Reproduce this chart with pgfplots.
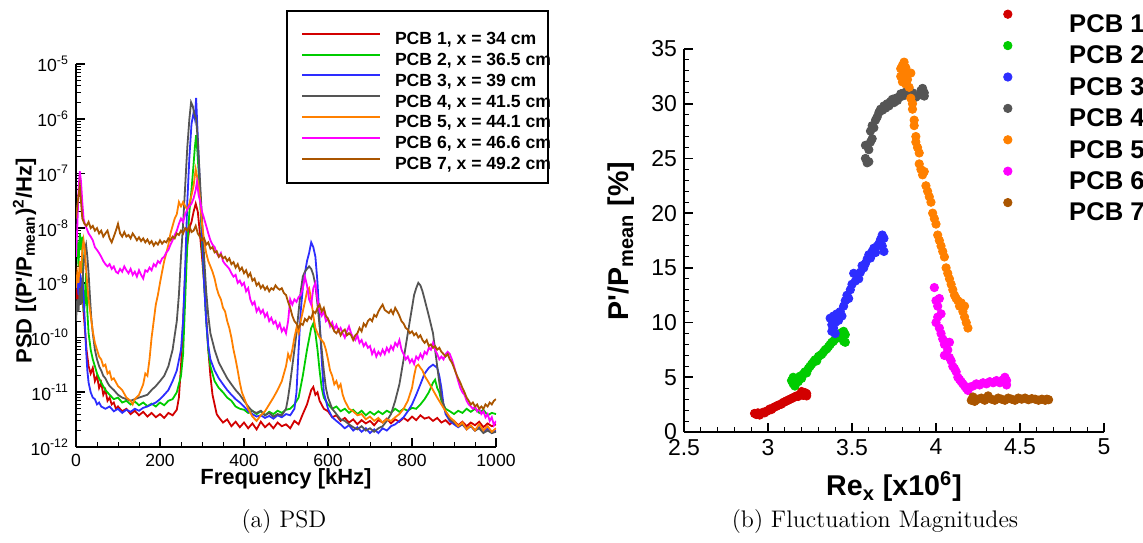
\documentclass[border=0pt]{standalone}
\usepackage{fontspec}
\usepackage{pgfplots}
\pgfplotsset{compat=1.18}
\newfontfamily\arial{Liberation Sans}
\definecolor{cA}{RGB}{210,0,0}
\definecolor{cB}{RGB}{0,204,0}
\definecolor{cC}{RGB}{45,45,255}
\definecolor{cD}{RGB}{85,85,85}
\definecolor{cE}{RGB}{255,128,0}
\definecolor{cF}{RGB}{255,0,255}
\definecolor{cG}{RGB}{170,85,0}
\pgfplotsset{
  tecframe/.style={
    scale only axis, width=210pt, height=191.5pt, anchor=south west,
    axis lines=left, axis line style={-, line width=1pt, black},
    tick align=inside, major tick length=4.5pt, minor tick length=2.5pt,
    major tick style={black, line width=0.8pt}, minor tick style={black, line width=0.5pt},
  }
}
\begin{document}
\begin{tikzpicture}
\useasboundingbox (0pt,0pt) rectangle (571.5pt,271pt);
% ---------------- left: PSD ----------------
\begin{axis}[tecframe, at={(38pt,47.5pt)},
  ymode=log, xmin=0, xmax=1000, ymin=1e-12, ymax=1e-5,
  xtick={0,200,400,600,800,1000}, xticklabels={0,200,400,600,800,1000},
  minor x tick num=3,
  ytick={1e-12,1e-11,1e-10,1e-9,1e-8,1e-7,1e-6,1e-5},
  yticklabels={10\textsuperscript{-12},10\textsuperscript{-11},10\textsuperscript{-10},10\textsuperscript{-9},10\textsuperscript{-8},10\textsuperscript{-7},10\textsuperscript{-6},10\textsuperscript{-5}},
  ticklabel style={font=\arial\fontsize{8.8}{10}\selectfont},
  xlabel={Frequency [kHz]},
  ylabel={PSD [(P'/P\textsubscript{mean})\textsuperscript{2}/Hz]},
  every axis x label/.style={at={(axis description cs:0.5,-0.0836)}, anchor=center},
  every axis y label/.style={at={(axis description cs:-0.1226,0.4856)}, anchor=center, rotate=90},
  label style={font=\arial\bfseries\fontsize{11}{13}\selectfont},
  legend cell align=left,
  legend image code/.code={\draw[#1, line width=1pt] (0pt,3.15pt) -- (39pt,3.15pt); \path (46pt,3.15pt);},
  legend style={at={(0.535,1.0849)}, anchor=north west, draw=none, fill=none, inner sep=0pt, row sep=2.2pt,
    font=\arial\bfseries\fontsize{8.8}{10}\selectfont,
    nodes={inner sep=0pt, text height=6.4pt, text depth=1.8pt}},
  every axis plot/.append style={line width=0.9pt},
]
\addplot[cA] coordinates {(0,5e-10) (3,8e-10) (6,4e-10) (9,1.1e-9) (12,6e-10) (15,9e-10) (18,3e-10) (21,1.5e-10) (25,6e-11) (30,3e-11) (35,2.2e-11) (40,2.8e-11) (45,1.6e-11) (50,2e-11) (55,1.2e-11) (60,1.5e-11) (65,9e-12) (70,1.1e-11) (75,7e-12) (80,8e-12) (85,6e-12) (90,6.5e-12) (95,5e-12) (100,5.5e-12) (110,4.5e-12) (120,5e-12) (130,4e-12) (140,4.6e-12) (150,3.8e-12) (160,4.4e-12) (170,3.6e-12) (180,4.2e-12) (190,3.5e-12) (200,4e-12) (210,3.4e-12) (220,4.2e-12) (230,3.8e-12) (240,4.8e-12) (245,8e-12) (250,3e-11) (255,2e-10) (260,1.5e-9) (265,5e-9) (270,1e-8) (275,1.3e-8) (280,2e-8) (285,2.8e-8) (290,2e-8) (295,8e-9) (300,3e-9) (305,1e-9) (310,2.5e-10) (315,6e-11) (320,2e-11) (325,9e-12) (330,6e-12) (335,4e-12) (340,3.5e-12) (350,2.8e-12) (360,3.2e-12) (370,2.4e-12) (380,2.9e-12) (390,2.3e-12) (400,2.8e-12) (410,2.2e-12) (420,2.7e-12) (430,2.1e-12) (440,2.9e-12) (450,2.3e-12) (460,2.7e-12) (470,2.2e-12) (480,2.8e-12) (490,2.4e-12) (500,2.6e-12) (510,2.2e-12) (520,3e-12) (530,2.6e-12) (540,4e-12) (550,6e-12) (560,1.1e-11) (565,1.25e-11) (570,9e-12) (575,1e-11) (580,7e-12) (590,5e-12) (600,4.5e-12) (610,3.5e-12) (620,3.8e-12) (630,3e-12) (640,3.4e-12) (650,2.8e-12) (660,3.2e-12) (670,2.6e-12) (680,3.1e-12) (690,2.7e-12) (700,3e-12) (710,2.5e-12) (720,3.1e-12) (730,2.8e-12) (740,3.3e-12) (750,2.7e-12) (760,3.2e-12) (770,2.9e-12) (780,3.4e-12) (790,3e-12) (800,3.6e-12) (810,3.1e-12) (820,3.8e-12) (830,3.3e-12) (840,3.5e-12) (850,3e-12) (860,3.4e-12) (870,2.8e-12) (880,3.1e-12) (890,2.6e-12) (900,3e-12) (910,2.5e-12) (920,2.9e-12) (930,2.4e-12) (940,2.8e-12) (950,2.5e-12) (960,2.9e-12) (970,2.3e-12) (980,2.7e-12) (990,2.4e-12) (1000,2.6e-12)};
\addlegendentry{PCB 1, x = 34 cm}
\addplot[cB] coordinates {(0,3e-9) (3,6e-9) (6,2e-9) (9,8e-9) (12,4e-9) (15,7e-9) (18,3e-10) (21,4e-10) (24,1.5e-9) (27,3e-10) (30,1.2e-10) (35,6e-11) (40,4e-11) (45,3e-11) (50,2.2e-11) (55,1.8e-11) (60,1.5e-11) (70,1.1e-11) (80,9e-12) (90,7.5e-12) (100,8e-12) (110,6.5e-12) (120,7e-12) (130,6e-12) (140,6.8e-12) (150,5.8e-12) (160,6.5e-12) (170,5.6e-12) (180,6.2e-12) (190,5.5e-12) (200,6.5e-12) (210,5.8e-12) (220,7e-12) (230,7.5e-12) (240,1e-11) (250,2e-11) (255,5e-11) (260,5e-10) (265,5e-9) (270,2e-8) (275,5e-8) (280,1.5e-7) (283,3e-7) (286,5e-7) (289,2.5e-7) (293,8e-8) (297,2e-8) (300,5e-9) (305,1e-9) (310,2e-10) (315,6e-11) (320,3e-11) (330,1.6e-11) (340,1.2e-11) (350,1e-11) (360,8e-12) (370,7e-12) (380,5.5e-12) (390,5e-12) (400,4.8e-12) (410,4.2e-12) (420,4.6e-12) (430,4e-12) (440,4.5e-12) (450,3.8e-12) (460,4.4e-12) (470,4e-12) (480,4.6e-12) (490,4.2e-12) (500,4.8e-12) (510,5e-12) (520,6e-12) (530,8e-12) (540,2e-11) (550,6e-11) (560,1.5e-10) (565,1.8e-10) (570,1.2e-10) (575,6e-11) (580,2.5e-11) (585,1.2e-11) (590,8e-12) (600,6e-12) (610,5e-12) (620,5.5e-12) (630,4.5e-12) (640,5e-12) (650,4.2e-12) (660,4.8e-12) (670,4e-12) (680,4.6e-12) (690,3.8e-12) (700,4.4e-12) (710,3.9e-12) (720,4.5e-12) (730,4e-12) (740,4.6e-12) (750,4.2e-12) (760,5e-12) (770,4.4e-12) (780,5e-12) (790,4.6e-12) (800,5.2e-12) (810,5e-12) (820,6e-12) (830,7.5e-12) (840,1e-11) (850,1.5e-11) (855,1.7e-11) (860,1.2e-11) (865,1e-11) (870,7e-12) (880,5e-12) (890,4.5e-12) (900,4e-12) (910,4.6e-12) (920,4.2e-12) (930,5e-12) (940,4.4e-12) (950,5e-12) (960,4.2e-12) (970,4.8e-12) (980,3.8e-12) (990,4.2e-12) (1000,4e-12)};
\addlegendentry{PCB 2, x = 36.5 cm}
\addplot[cC] coordinates {(0,8e-10) (3,1.3e-9) (6,6e-10) (9,1.6e-9) (12,9e-10) (15,1.2e-9) (18,6e-10) (21,2e-10) (24,6e-11) (27,2.5e-11) (30,1.5e-11) (35,1e-11) (40,8e-12) (45,7.5e-12) (50,6e-12) (55,6.5e-12) (60,5.5e-12) (70,5e-12) (80,5.5e-12) (90,4.5e-12) (100,5e-12) (110,4.2e-12) (120,4.8e-12) (130,4.4e-12) (140,5e-12) (150,4.6e-12) (160,5.2e-12) (170,5.5e-12) (180,6e-12) (190,6.5e-12) (200,7.5e-12) (210,9e-12) (220,1.1e-11) (230,1.6e-11) (240,2.5e-11) (250,6e-11) (255,2e-10) (260,2e-9) (265,3e-8) (270,2e-7) (275,8e-7) (280,1.3e-6) (283,1e-6) (286,2.4e-6) (289,7e-7) (292,2e-7) (296,4e-8) (300,8e-9) (305,1e-9) (310,2e-10) (315,7e-11) (320,4e-11) (330,2.5e-11) (340,1.8e-11) (350,1.4e-11) (360,1.1e-11) (370,9e-12) (380,7.5e-12) (390,6.5e-12) (400,5.5e-12) (410,4.5e-12) (420,4e-12) (430,3.6e-12) (440,3.8e-12) (450,3.4e-12) (460,3.7e-12) (470,3.3e-12) (480,3.8e-12) (490,3.5e-12) (500,4e-12) (510,3.8e-12) (520,5e-12) (525,1e-11) (530,6e-11) (535,3e-10) (540,8e-10) (545,1.5e-9) (550,2.5e-9) (555,3.5e-9) (560,5.5e-9) (565,4.5e-9) (570,3e-9) (575,1e-9) (580,2e-10) (585,4e-11) (590,1e-11) (600,5e-12) (610,3.5e-12) (620,3e-12) (630,2.6e-12) (640,2.2e-12) (650,2.5e-12) (660,2e-12) (670,2.3e-12) (680,1.9e-12) (690,2.2e-12) (700,1.8e-12) (710,2.1e-12) (720,1.8e-12) (730,2.2e-12) (740,2e-12) (750,2.4e-12) (760,2.6e-12) (770,3e-12) (780,3.5e-12) (790,4.5e-12) (800,6e-12) (810,9e-12) (820,1.4e-11) (830,2.2e-11) (840,2.8e-11) (850,3.2e-11) (855,3e-11) (860,2.8e-11) (865,2e-11) (870,1.2e-11) (875,6e-12) (880,4e-12) (890,3e-12) (900,2.6e-12) (910,2.3e-12) (920,2.6e-12) (930,2.1e-12) (940,2.4e-12) (950,2e-12) (960,2.3e-12) (970,1.9e-12) (980,2.2e-12) (990,1.8e-12) (1000,2e-12)};
\addlegendentry{PCB 3, x = 39 cm}
\addplot[cD] coordinates {(0,2e-10) (3,5e-10) (6,3e-10) (9,8e-10) (12,4e-10) (15,1e-9) (18,2e-9) (21,4e-9) (24,5e-9) (27,3e-9) (30,1.5e-9) (33,6e-10) (36,2.5e-10) (40,1.2e-10) (45,6e-11) (50,4e-11) (55,3e-11) (60,2.5e-11) (65,2e-11) (70,1.8e-11) (75,1.5e-11) (80,1.3e-11) (90,1.1e-11) (100,9e-12) (110,8e-12) (120,7.5e-12) (130,7e-12) (140,7.5e-12) (150,8e-12) (160,8.5e-12) (170,9e-12) (180,1.1e-11) (190,1.3e-11) (200,1.6e-11) (210,2e-11) (220,3e-11) (230,6e-11) (240,2e-10) (245,6e-10) (250,3e-9) (255,1.2e-8) (260,6e-8) (265,3e-7) (270,1e-6) (274,2e-6) (278,1.7e-6) (282,1.2e-6) (286,1e-6) (290,4e-7) (295,8e-8) (300,1.5e-8) (305,3e-9) (310,7e-10) (315,2.5e-10) (320,1.2e-10) (330,6e-11) (340,3.5e-11) (350,2.5e-11) (360,1.8e-11) (370,1.4e-11) (380,1.1e-11) (390,9e-12) (400,7e-12) (410,5.5e-12) (420,4.5e-12) (430,4.2e-12) (440,4.6e-12) (450,3.8e-12) (460,4.2e-12) (470,3.6e-12) (480,4e-12) (490,3.8e-12) (500,5e-12) (505,8e-12) (510,1.5e-11) (515,3e-11) (520,6e-11) (525,1.2e-10) (530,3e-10) (535,7e-10) (540,1.3e-9) (545,1.6e-9) (550,1.8e-9) (555,2e-9) (560,1.8e-9) (565,1.4e-9) (570,9e-10) (575,4e-10) (580,1.6e-10) (585,6e-11) (590,2.5e-11) (595,1.2e-11) (600,8e-12) (610,5e-12) (620,4e-12) (630,3.2e-12) (640,3e-12) (650,2.6e-12) (660,2.3e-12) (670,2.1e-12) (680,2.4e-12) (690,2e-12) (700,2.2e-12) (710,1.9e-12) (720,2.2e-12) (730,2.4e-12) (740,3e-12) (750,4e-12) (760,7e-12) (770,1.4e-11) (780,4e-11) (790,1.2e-10) (800,3.5e-10) (805,6e-10) (810,8e-10) (815,1e-9) (820,9e-10) (825,7e-10) (830,5e-10) (840,2.5e-10) (850,1.2e-10) (855,6e-11) (860,3e-11) (865,1.5e-11) (870,8e-12) (880,4.5e-12) (890,3.2e-12) (900,2.8e-12) (910,2.4e-12) (920,2.6e-12) (930,2.2e-12) (940,2.4e-12) (950,2e-12) (960,2.2e-12) (970,1.8e-12) (980,2e-12) (990,1.8e-12) (1000,1.9e-12)};
\addlegendentry{PCB 4, x = 41.5 cm}
\addplot[cE] coordinates {(0,8e-10) (3,1.5e-9) (6,1e-9) (9,2.5e-9) (12,1.5e-9) (15,4e-9) (18,6e-9) (21,4e-9) (24,1.8e-9) (27,9e-10) (30,5e-10) (35,2.5e-10) (40,1.3e-10) (45,8e-11) (50,6e-11) (55,4.5e-11) (60,4e-11) (65,3e-11) (70,3.2e-11) (75,2.2e-11) (80,2.4e-11) (85,1.7e-11) (90,1.8e-11) (100,1.3e-11) (110,1.1e-11) (120,8e-12) (130,7e-12) (135,6e-12) (140,7.5e-12) (150,9e-12) (160,1.4e-11) (165,2.2e-11) (170,2e-11) (175,4e-11) (180,1e-10) (185,2e-10) (190,4e-10) (195,6e-10) (200,1e-9) (205,1.6e-9) (210,2.5e-9) (215,3.5e-9) (220,5e-9) (225,8e-9) (230,1.1e-8) (235,1.5e-8) (240,1.8e-8) (245,3e-8) (250,2.5e-8) (255,3e-8) (260,2.5e-8) (265,2.2e-8) (270,2.8e-8) (275,4e-8) (280,6e-8) (285,1.2e-7) (288,9e-8) (292,6e-8) (296,3e-8) (300,1.2e-8) (305,6e-9) (310,3.5e-9) (315,2.5e-9) (320,2e-9) (325,1.6e-9) (330,1.2e-9) (335,8e-10) (340,6e-10) (345,5e-10) (350,3.5e-10) (355,3e-10) (360,2e-10) (365,1.5e-10) (370,1e-10) (375,6e-11) (380,4e-11) (385,2.5e-11) (390,1.5e-11) (395,1e-11) (400,8e-12) (410,5e-12) (420,3.6e-12) (430,3e-12) (440,3.8e-12) (450,4.5e-12) (460,6e-12) (470,8e-12) (480,1.1e-11) (490,1.6e-11) (500,3e-11) (505,5e-11) (510,4e-11) (515,6e-11) (520,1e-10) (525,1.5e-10) (530,1.2e-10) (535,2e-10) (540,3e-10) (545,4.5e-10) (550,7e-10) (555,8e-10) (560,5e-10) (565,2.5e-10) (570,1.5e-10) (575,1.2e-10) (580,1e-10) (585,9e-11) (590,8e-11) (595,6e-11) (600,4e-11) (605,2.5e-11) (610,2e-11) (615,1.4e-11) (620,1.6e-11) (625,1.2e-11) (630,1.4e-11) (635,9e-12) (640,7e-12) (650,5e-12) (660,4.5e-12) (670,3.8e-12) (680,4e-12) (690,3.2e-12) (700,3.6e-12) (710,3e-12) (720,3.4e-12) (730,2.8e-12) (740,3.2e-12) (750,3e-12) (760,3.5e-12) (770,4e-12) (780,5e-12) (790,7e-12) (800,1.2e-11) (805,2e-11) (810,3e-11) (815,3.2e-11) (820,2.8e-11) (825,2.5e-11) (830,2e-11) (840,1.5e-11) (850,1.1e-11) (860,8e-12) (870,6e-12) (880,4.5e-12) (890,3.5e-12) (900,3e-12) (910,2.4e-12) (920,2.8e-12) (930,2.1e-12) (940,2.5e-12) (950,2e-12) (960,2.6e-12) (970,2e-12) (980,2.4e-12) (990,1.9e-12) (1000,2.2e-12)};
\addlegendentry{PCB 5, x = 44.1 cm}
\addplot[cF] coordinates {(0,3e-9) (3,1e-8) (6,5e-8) (9,1.1e-7) (12,7e-8) (15,3e-8) (18,1.5e-8) (21,1.2e-8) (25,1e-8) (30,8e-9) (35,7e-9) (40,6e-9) (45,4.5e-9) (50,4e-9) (55,3.5e-9) (60,3e-9) (65,2.5e-9) (70,2.2e-9) (75,2e-9) (80,2.2e-9) (85,1.8e-9) (90,2e-9) (95,1.6e-9) (100,1.5e-9) (105,1.8e-9) (110,1.6e-9) (115,2e-9) (120,1.7e-9) (125,1.5e-9) (130,1.8e-9) (135,1.4e-9) (140,1.6e-9) (145,1.3e-9) (150,1.7e-9) (155,1.4e-9) (160,1.2e-9) (165,1.7e-9) (170,1.6e-9) (175,1.9e-9) (180,1.7e-9) (185,2.2e-9) (190,2e-9) (195,2.5e-9) (200,2.3e-9) (205,2.8e-9) (210,3e-9) (215,3.6e-9) (220,4e-9) (225,5e-9) (230,6e-9) (235,7.5e-9) (240,9e-9) (245,1.2e-8) (250,1.5e-8) (255,1.3e-8) (260,1.8e-8) (265,2.2e-8) (270,2.5e-8) (275,2.8e-8) (280,3.5e-8) (285,5e-8) (288,7e-8) (292,4e-8) (296,3e-8) (300,2e-8) (305,1.5e-8) (310,1.1e-8) (315,8e-9) (320,6e-9) (325,5e-9) (330,4.5e-9) (335,3.5e-9) (340,3e-9) (345,3.5e-9) (350,2.5e-9) (355,2.2e-9) (360,2e-9) (365,1.8e-9) (370,1.5e-9) (375,1.3e-9) (380,1.4e-9) (385,1e-9) (390,1.1e-9) (395,9e-10) (400,1e-9) (405,7e-10) (410,8e-10) (415,5e-10) (420,4e-10) (425,4.5e-10) (430,3e-10) (435,3.5e-10) (440,2.8e-10) (445,3.2e-10) (450,2.4e-10) (455,2.8e-10) (460,2e-10) (465,2.3e-10) (470,1.8e-10) (475,2e-10) (480,1.5e-10) (485,1.8e-10) (490,1.3e-10) (495,1.5e-10) (500,1.2e-10) (505,2e-10) (510,5e-10) (515,4e-10) (520,5e-10) (525,4.5e-10) (530,5.5e-10) (535,6e-10) (540,8e-10) (545,1.3e-9) (550,9e-10) (555,5e-10) (560,4e-10) (565,8e-10) (570,1e-9) (575,5e-10) (580,3e-10) (585,2.5e-10) (590,3e-10) (595,2e-10) (600,2.2e-10) (605,1.6e-10) (610,1.9e-10) (615,1.4e-10) (620,1.7e-10) (625,1.3e-10) (630,1.5e-10) (635,1.2e-10) (640,1e-10) (645,1.3e-10) (650,1.6e-10) (655,1.2e-10) (660,1e-10) (665,9e-11) (670,1.1e-10) (675,8e-11) (680,9e-11) (685,7e-11) (690,8e-11) (695,6.5e-11) (700,7e-11) (705,5e-11) (710,6e-11) (715,4.5e-11) (720,5.5e-11) (725,4.8e-11) (730,6e-11) (735,5e-11) (740,6.5e-11) (745,5.5e-11) (750,7e-11) (755,6e-11) (760,8e-11) (765,7e-11) (770,9e-11) (775,6e-11) (780,5e-11) (785,4e-11) (790,4.5e-11) (795,3.5e-11) (800,4e-11) (805,3.3e-11) (810,4.5e-11) (815,4e-11) (820,5e-11) (825,4.2e-11) (830,5.5e-11) (835,5e-11) (840,6.5e-11) (845,6e-11) (850,8e-11) (855,6e-11) (860,5e-11) (865,4e-11) (870,4.5e-11) (875,4e-11) (880,5e-11) (885,5.5e-11) (890,5e-11) (895,4e-11) (900,3e-11) (905,2.2e-11) (910,1.6e-11) (915,1.2e-11) (920,1e-11) (925,9e-12) (930,7e-12) (935,6e-12) (940,5.5e-12) (945,5e-12) (950,5.5e-12) (955,4.5e-12) (960,5e-12) (965,4e-12) (970,4.5e-12) (975,3.5e-12) (980,4e-12) (985,3e-12) (990,3.5e-12) (995,2.5e-12) (1000,3e-12)};
\addlegendentry{PCB 6, x = 46.6 cm}
\addplot[cG] coordinates {(0,1.5e-8) (3,2.5e-8) (6,4e-8) (9,6e-8) (12,3e-8) (15,1.5e-8) (20,1.2e-8) (25,1.1e-8) (30,1.3e-8) (35,1e-8) (40,1.1e-8) (45,9e-9) (50,1e-8) (55,8e-9) (60,9e-9) (65,7e-9) (70,8e-9) (75,9e-9) (80,6.5e-9) (85,5.5e-9) (90,7e-9) (95,9e-9) (100,1.2e-8) (105,8e-9) (110,7e-9) (115,8.5e-9) (120,7e-9) (125,7.5e-9) (130,6.5e-9) (135,8e-9) (140,7e-9) (145,6e-9) (150,6.8e-9) (155,5.8e-9) (160,6.5e-9) (165,5.5e-9) (170,6.2e-9) (175,5.2e-9) (180,5.8e-9) (185,4.8e-9) (190,5.5e-9) (195,5e-9) (200,6e-9) (205,5.2e-9) (210,5.8e-9) (215,5.5e-9) (220,6.5e-9) (225,6e-9) (230,7e-9) (235,6.5e-9) (240,8e-9) (245,7.5e-9) (250,9e-9) (255,8e-9) (260,1e-8) (265,9e-9) (270,1.1e-8) (275,8.5e-9) (280,9e-9) (285,1.1e-8) (290,8e-9) (295,7e-9) (300,6e-9) (305,6.5e-9) (310,5e-9) (315,5.5e-9) (320,4.2e-9) (325,4.5e-9) (330,3.6e-9) (335,3.8e-9) (340,3e-9) (345,3.3e-9) (350,2.8e-9) (355,3e-9) (360,2.5e-9) (365,2.8e-9) (370,2.2e-9) (375,2.4e-9) (380,1.9e-9) (385,2.2e-9) (390,1.7e-9) (395,1.9e-9) (400,1.5e-9) (405,1.7e-9) (410,1.3e-9) (415,1.5e-9) (420,1.1e-9) (425,1.2e-9) (430,9e-10) (435,1e-9) (440,8e-10) (445,9e-10) (450,7.5e-10) (455,8.5e-10) (460,7e-10) (465,8e-10) (470,7.5e-10) (475,9e-10) (480,8e-10) (485,7.5e-10) (490,8e-10) (495,6.5e-10) (500,6e-10) (505,4.5e-10) (510,3.5e-10) (515,2.5e-10) (520,2e-10) (525,1.8e-10) (530,1.5e-10) (535,1.8e-10) (540,1.7e-10) (545,2.2e-10) (550,2e-10) (555,2.4e-10) (560,2.2e-10) (565,3e-10) (570,2.8e-10) (575,3.5e-10) (580,4e-10) (585,3e-10) (590,3.5e-10) (595,2.5e-10) (600,2.2e-10) (605,1.8e-10) (610,1.6e-10) (615,1.3e-10) (620,1.2e-10) (625,1.4e-10) (630,1.1e-10) (635,1.3e-10) (640,1.4e-10) (645,1.1e-10) (650,1.2e-10) (655,1.1e-10) (660,9e-11) (665,1.1e-10) (670,1.2e-10) (675,1.5e-10) (680,1.3e-10) (685,1.8e-10) (690,1.6e-10) (695,2e-10) (700,2.2e-10) (705,2e-10) (710,2.6e-10) (715,2.4e-10) (720,3e-10) (725,3.5e-10) (730,4e-10) (735,3.2e-10) (740,3e-10) (745,2.8e-10) (750,3.2e-10) (755,2.7e-10) (760,3.5e-10) (765,3e-10) (770,2.5e-10) (775,2e-10) (780,1.8e-10) (785,1.5e-10) (790,1.4e-10) (795,1.2e-10) (800,1.3e-10) (805,1.1e-10) (810,1.2e-10) (815,1e-10) (820,1.1e-10) (825,9e-11) (830,8e-11) (835,9e-11) (840,7e-11) (845,7.5e-11) (850,6.5e-11) (855,7e-11) (860,6e-11) (865,6.5e-11) (870,5.5e-11) (875,5e-11) (880,4.5e-11) (885,5e-11) (890,4e-11) (895,3.5e-11) (900,2.8e-11) (905,2.2e-11) (910,1.8e-11) (915,1.5e-11) (920,1.2e-11) (925,1e-11) (930,8e-12) (935,7e-12) (940,6e-12) (945,6.5e-12) (950,5.5e-12) (955,6e-12) (960,5e-12) (965,5.5e-12) (970,5e-12) (975,6e-12) (980,5.5e-12) (985,6.5e-12) (990,6e-12) (995,7e-12) (1000,7.5e-12)};
\addlegendentry{PCB 7, x = 49.2 cm}
\end{axis}
\draw[line width=0.7pt] (143.5pt,265.5pt) rectangle (274pt,179.5pt);
% ---------------- right: fluctuation magnitudes ----------------
\begin{axis}[tecframe, at={(342pt,55pt)},
  xmin=2.5, xmax=5, ymin=0, ymax=35,
  xtick={2.5,3,3.5,4,4.5,5}, xticklabels={2.5,3,3.5,4,4.5,5},
  ytick={0,5,10,15,20,25,30,35}, yticklabels={0,5,10,15,20,25,30,35},
  minor x tick num=4, minor y tick num=4,
  ticklabel style={font=\arial\fontsize{11.5}{13}\selectfont},
  xlabel={Re\textsubscript{x} [x10\textsuperscript{6}]},
  ylabel={P'/P\textsubscript{mean} [\%]},
  every axis x label/.style={at={(axis description cs:0.5,-0.1423)}, anchor=center},
  every axis y label/.style={at={(axis description cs:-0.1488,0.4987)}, anchor=center, rotate=90},
  label style={font=\arial\bfseries\fontsize{14.3}{16}\selectfont},
  legend cell align=left,
  legend image code/.code={\draw[#1] plot coordinates {(0pt,4.6pt)}; \path (-3pt,4.6pt) (30.5pt,4.6pt);},
  legend style={at={(0.7548,1.1029)}, anchor=north west, draw=none, fill=none, inner sep=0pt, row sep=4.15pt,
    font=\arial\bfseries\fontsize{12.8}{15}\selectfont,
    nodes={inner sep=0pt, text height=9.4pt, text depth=0.3pt}},
  every axis plot/.append style={only marks, mark=*, mark size=2.1pt},
]
\addplot[cA] coordinates {(2.92,1.7) (2.93,1.6) (2.94,1.75) (2.95,1.55) (2.96,1.7) (2.97,1.8) (2.98,1.75) (2.99,1.9) (3.00,1.95) (3.01,2.1) (3.02,2.05) (3.03,2.2) (3.04,2.3) (3.05,2.35) (3.06,2.45) (3.07,2.5) (3.08,2.55) (3.09,2.7) (3.10,2.75) (3.11,2.85) (3.12,2.9) (3.13,3.0) (3.14,3.05) (3.15,3.15) (3.16,3.2) (3.17,3.3) (3.18,3.25) (3.19,3.4) (3.20,3.45) (3.21,3.35) (3.22,3.6) (3.23,3.5) (3.23,3.3) (3.20,3.7)};
\addlegendentry{PCB 1}
\addplot[cB] coordinates {(3.14,4.7) (3.15,4.4) (3.15,5.0) (3.16,4.2) (3.17,4.8) (3.18,4.6) (3.19,5.1) (3.20,4.9) (3.21,5.3) (3.22,5.5) (3.23,5.4) (3.24,5.8) (3.25,6.0) (3.26,6.2) (3.27,6.4) (3.28,6.6) (3.29,6.5) (3.30,6.9) (3.31,7.0) (3.32,7.1) (3.33,7.3) (3.34,7.5) (3.35,7.6) (3.36,7.8) (3.37,8.0) (3.38,8.2) (3.39,8.3) (3.40,8.5) (3.41,8.6) (3.42,8.8) (3.43,9.0) (3.44,8.7) (3.45,9.2) (3.46,8.9) (3.46,8.2) (3.45,8.3) (3.44,9.1)};
\addlegendentry{PCB 2}
\addplot[cC] coordinates {(3.37,10.4) (3.38,9.8) (3.38,9.2) (3.39,9.5) (3.39,10.6) (3.40,9.0) (3.40,10.0) (3.41,10.8) (3.42,10.2) (3.43,11.0) (3.44,10.6) (3.45,11.5) (3.46,12.0) (3.47,12.5) (3.48,12.2) (3.49,13.0) (3.50,13.5) (3.51,14.5) (3.52,13.8) (3.53,14.3) (3.54,14.0) (3.55,14.6) (3.56,15.2) (3.57,15.0) (3.58,15.4) (3.59,15.8) (3.60,16.2) (3.61,15.9) (3.62,16.5) (3.63,16.8) (3.64,16.4) (3.65,17.0) (3.66,17.2) (3.67,17.6) (3.68,18.0) (3.69,17.7) (3.69,16.5) (3.68,17.0)};
\addlegendentry{PCB 3}
\addplot[cD] coordinates {(3.58,25.0) (3.58,26.2) (3.59,24.6) (3.60,24.7) (3.60,25.8) (3.61,26.5) (3.61,27.5) (3.62,26.8) (3.62,28.0) (3.63,27.8) (3.64,28.5) (3.65,28.8) (3.66,29.2) (3.67,29.5) (3.68,29.4) (3.69,29.8) (3.70,29.6) (3.71,30.0) (3.72,29.8) (3.73,30.2) (3.74,30.4) (3.75,30.1) (3.76,30.5) (3.77,30.3) (3.78,30.6) (3.79,30.9) (3.80,30.7) (3.81,31.0) (3.82,30.8) (3.83,31.2) (3.84,30.9) (3.86,31.0) (3.88,30.6) (3.90,30.8) (3.91,31.2) (3.92,31.4) (3.93,31.0) (3.93,30.7)};
\addlegendentry{PCB 4}
\addplot[cE] coordinates {(3.79,32.5) (3.79,33.2) (3.80,33.5) (3.80,32.0) (3.81,33.8) (3.81,32.8) (3.82,33.3) (3.82,31.8) (3.83,32.2) (3.84,31.5) (3.85,32.8) (3.85,30.5) (3.86,30.0) (3.86,29.5) (3.87,28.5) (3.87,28.0) (3.88,27.0) (3.88,26.5) (3.89,26.0) (3.90,25.5) (3.90,24.5) (3.91,24.0) (3.92,23.5) (3.93,23.8) (3.94,22.5) (3.95,22.0) (3.96,21.5) (3.97,21.0) (3.98,20.0) (3.99,19.5) (4.00,19.0) (4.01,18.0) (4.02,17.5) (4.03,17.0) (4.04,16.5) (4.05,16.0) (4.06,15.0) (4.07,14.5) (4.08,14.0) (4.09,13.5) (4.10,13.0) (4.11,12.5) (4.12,12.2) (4.13,12.0) (4.14,11.5) (4.15,11.8) (4.16,11.0) (4.17,11.5) (4.17,10.5) (4.18,10.0) (4.19,9.5)};
\addlegendentry{PCB 5}
\addplot[cF] coordinates {(3.99,13.2) (4.00,12.0) (4.01,11.5) (4.02,12.2) (4.01,10.5) (4.00,10.0) (4.02,9.5) (4.03,10.8) (4.03,9.0) (4.04,8.5) (4.05,8.0) (4.06,8.2) (4.05,7.0) (4.07,7.5) (4.08,6.8) (4.08,8.2) (4.09,6.5) (4.10,6.0) (4.11,5.8) (4.12,5.5) (4.13,5.0) (4.14,4.8) (4.15,4.6) (4.16,4.4) (4.17,4.2) (4.18,4.0) (4.19,3.8) (4.20,4.1) (4.22,4.2) (4.24,4.4) (4.26,4.3) (4.28,4.5) (4.30,4.4) (4.32,4.6) (4.34,4.5) (4.36,4.7) (4.38,4.5) (4.40,4.8) (4.41,5.0) (4.42,4.3) (4.42,4.7)};
\addlegendentry{PCB 6}
\addplot[cG] coordinates {(4.21,2.9) (4.22,3.2) (4.23,2.8) (4.25,3.0) (4.27,3.1) (4.29,2.9) (4.31,3.3) (4.33,3.0) (4.35,2.9) (4.37,3.1) (4.39,3.0) (4.41,2.9) (4.43,3.1) (4.45,3.0) (4.47,2.9) (4.49,3.1) (4.51,3.0) (4.53,3.1) (4.55,2.95) (4.57,3.05) (4.59,3.0) (4.61,2.9) (4.63,3.0) (4.65,2.9) (4.67,2.95) (4.66,3.0)};
\addlegendentry{PCB 7}
\end{axis}
\node[font=\fontsize{12}{14}\selectfont] at (142pt,10pt) {(a) PSD};
\node[font=\fontsize{12}{14}\selectfont] at (437.5pt,10pt) {(b) Fluctuation Magnitudes};
\end{tikzpicture}
\end{document}
